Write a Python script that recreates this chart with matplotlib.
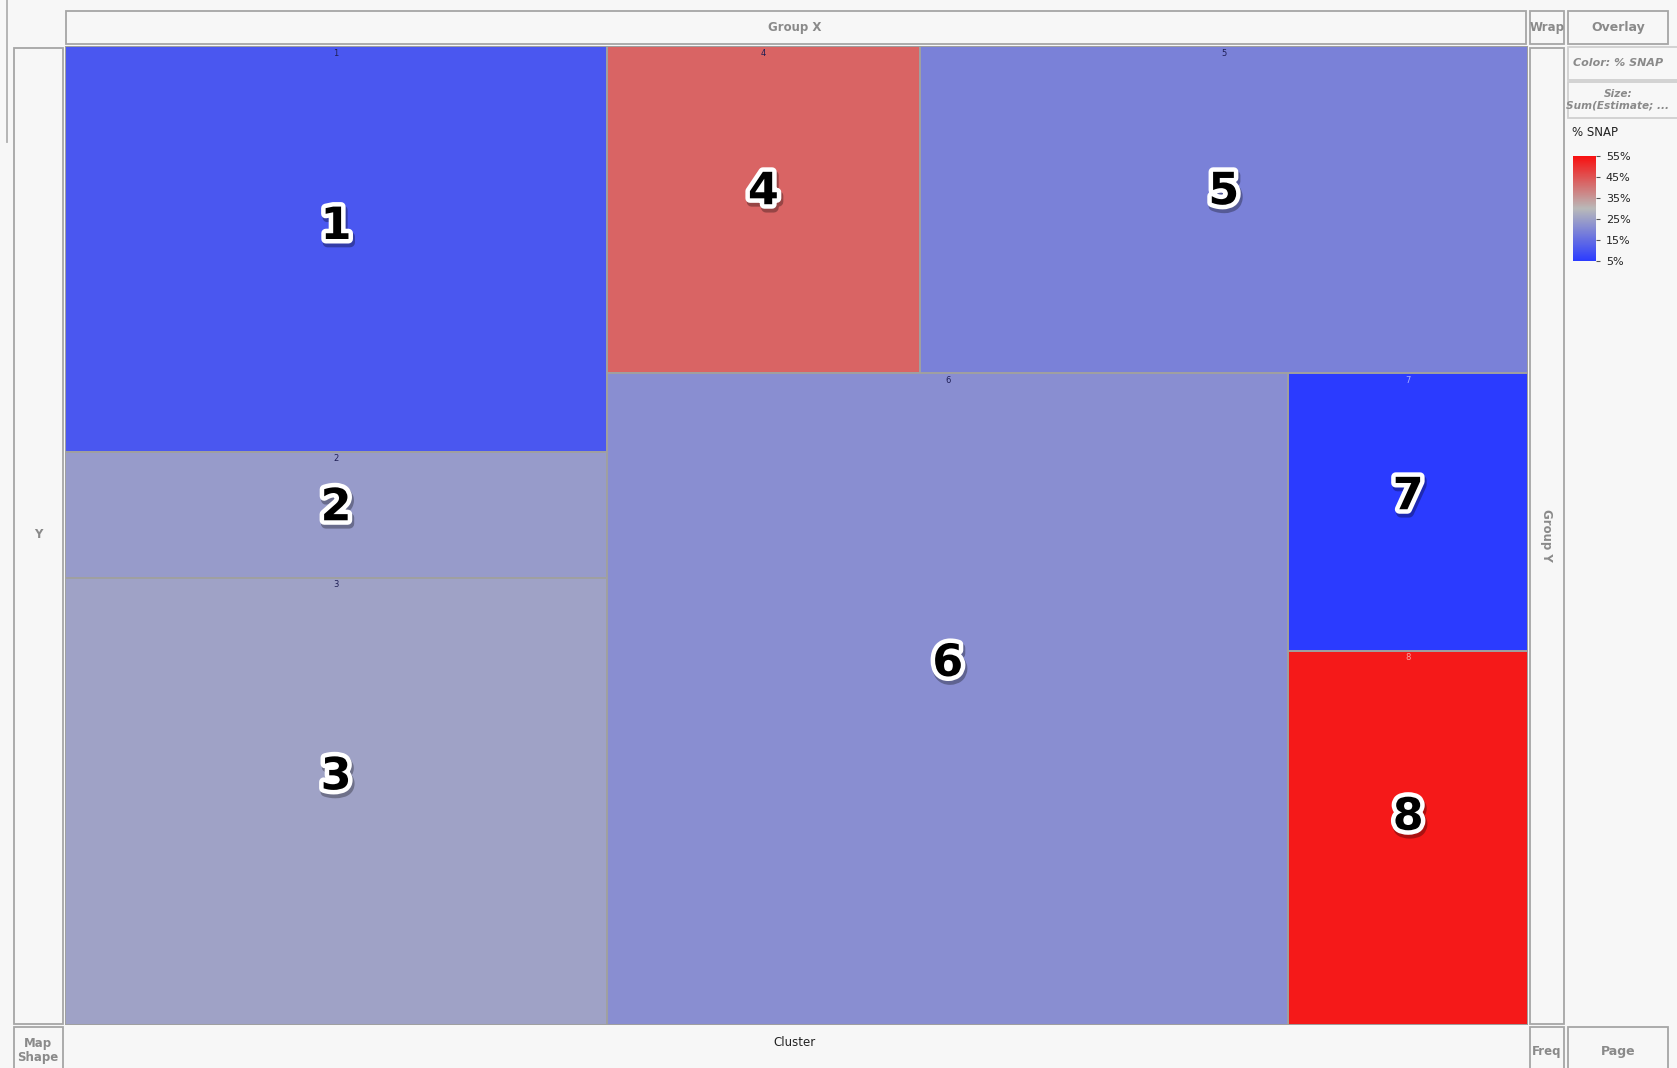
import numpy as np
import matplotlib
matplotlib.use("Agg")
import matplotlib.pyplot as plt
import matplotlib.patheffects as pe
from matplotlib.patches import Rectangle
from matplotlib.colors import LinearSegmentedColormap, Normalize

# cluster data
clusters = ["1", "2", "3", "4", "5", "6", "7", "8"]
size_est = [192.2, 59.8, 211.9, 89.4, 174.1, 387.9, 58.0, 78.4]   # Sum(Estimate)
pct_snap = [10.5, 24.0, 25.5, 42.5, 19.0, 21.5, 5.0, 53.5]      # % SNAP
legend_ticks = [5, 15, 25, 35, 45, 55]

# nesting of the treemap (alternating split direction, first split along x)
tree = [[0, 1, 2], [[3, 4], [5, [6, 7]]]]

W, H = 1677, 1068
fig = plt.figure(figsize=(W / 100, H / 100), dpi=100)
fig.patch.set_facecolor("#f7f7f7")

# background axes in pixel units for the Graph Builder frame
bg = fig.add_axes([0, 0, 1, 1])
bg.set_xlim(0, W)
bg.set_ylim(H, 0)
bg.axis("off")

edge = "#a6a6a6"
txt_gray = "#8a8a8a"


def box(x0, y0, x1, y1, ec=edge, lw=1.3, fc="#f7f7f7"):
    bg.add_patch(Rectangle((x0, y0), x1 - x0, y1 - y0, fc=fc, ec=ec, lw=lw))


box(66, 11, 1526, 44)                      # Group X
box(14, 48, 63, 1024)                      # Y
box(1530, 48, 1564, 1024)                  # Group Y
box(1530, 11, 1564, 44)                    # Wrap
box(1568, 11, 1668, 44)                    # Overlay
box(1568, 47, 1680, 80, ec="#d0d0d0")      # Color
box(1568, 82, 1680, 118, ec="#d0d0d0")     # Size
box(14, 1027, 63, 1075)                    # Map Shape
box(1530, 1027, 1564, 1075)                # Freq
box(1568, 1027, 1668, 1075)                # Page
bg.plot([7, 7], [0, 142], color="#b0b0b0", lw=1.3)

fs = 8.5
bg.text(795, 27, "Group X", ha="center", va="center", fontsize=fs, color=txt_gray, fontweight="bold")
bg.text(38, 535, "Y", ha="center", va="center", fontsize=fs, color=txt_gray, fontweight="bold")
bg.text(1547, 535, "Group Y", ha="center", va="center", fontsize=fs, color=txt_gray,
        fontweight="bold", rotation=-90)
bg.text(1547, 27, "Wrap", ha="center", va="center", fontsize=fs, color=txt_gray, fontweight="bold")
bg.text(1618, 27, "Overlay", ha="center", va="center", fontsize=fs + 0.5, color=txt_gray, fontweight="bold")
bg.text(1618, 63, "Color: % SNAP", ha="center", va="center", fontsize=8, color=txt_gray,
        fontweight="bold", style="italic")
bg.text(1618, 100, "Size:\nSum(Estimate; ...", ha="center", va="center", fontsize=7.6, color=txt_gray,
        fontweight="bold", style="italic", linespacing=1.2)
bg.text(1572, 133, "% SNAP", ha="left", va="center", fontsize=fs, color="#222222")
bg.text(795, 1043, "Cluster", ha="center", va="center", fontsize=fs, color="#222222")
bg.text(38, 1050, "Map\nShape", ha="center", va="center", fontsize=fs, color=txt_gray,
        fontweight="bold", linespacing=1.1)
bg.text(1547, 1052, "Freq", ha="center", va="center", fontsize=fs, color=txt_gray, fontweight="bold")
bg.text(1618, 1052, "Page", ha="center", va="center", fontsize=fs + 0.5, color=txt_gray, fontweight="bold")

# colour scale
cmap = LinearSegmentedColormap.from_list(
    "snap", [(0.0, "#2b3bff"), (0.5, "#b9b9b9"), (1.0, "#f81010")])
norm = Normalize(vmin=min(legend_ticks), vmax=max(legend_ticks))

# treemap axes
px0, py0, px1, py1 = 65, 46, 1528, 1025
ax = fig.add_axes([px0 / W, 1 - py1 / H, (px1 - px0) / W, (py1 - py0) / H])
ax.set_xlim(0, 1)
ax.set_ylim(1, 0)
ax.axis("off")


def total(node):
    if isinstance(node, int):
        return size_est[node]
    return sum(total(n) for n in node)


rects = {}


def layout(node, x, y, w, h, along_x):
    if isinstance(node, int):
        rects[node] = (x, y, w, h)
        return
    tot = total(node)
    pos = 0.0
    for child in node:
        f = total(child) / tot
        if along_x:
            layout(child, x + pos * w, y, f * w, h, not along_x)
        else:
            layout(child, x, y + pos * h, w, f * h, not along_x)
        pos += f


layout(tree, 0, 0, 1, 1, True)

big_fx = [pe.Stroke(linewidth=7, foreground=(0, 0, 0, 0.3), offset=(1.2, -2.5)),
          pe.Stroke(linewidth=6.5, foreground="white"), pe.Normal()]

for i, lab in enumerate(clusters):
    x, y, w, h = rects[i]
    ax.add_patch(Rectangle((x, y), w, h, fc=cmap(norm(pct_snap[i])), ec="#a0a0a0", lw=1.4))
    ax.text(x + w / 2, y + h * 0.445, lab, ha="center", va="center", fontsize=32,
            fontweight="bold", color="black", path_effects=big_fx)
    small_col = "#1e1e55" if 8 < pct_snap[i] < 50 else (1, 1, 1, 0.6)
    ax.text(x + w / 2, y + 7 / (py1 - py0), lab, ha="center", va="center", fontsize=6,
            color=small_col)

# legend colorbar
cax = fig.add_axes([1573 / W, 1 - 261 / H, 23 / W, 105 / H])
sm = plt.cm.ScalarMappable(norm=norm, cmap=cmap)
cb = fig.colorbar(sm, cax=cax)
cb.outline.set_visible(False)
cb.set_ticks(legend_ticks)
cb.set_ticklabels([f"{t}%" for t in legend_ticks])
cax.tick_params(labelsize=8, length=3, width=0.8, colors="#555555", labelcolor="#222222", pad=4)

fig.savefig("out.png", dpi=100, facecolor=fig.get_facecolor())
